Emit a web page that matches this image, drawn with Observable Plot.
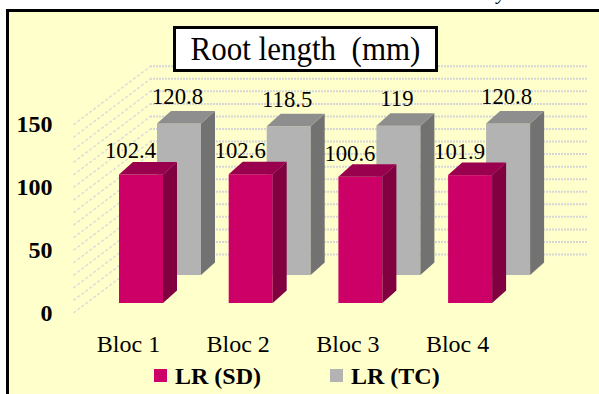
<!DOCTYPE html>
<html>
<head>
<meta charset="utf-8">
<script src="https://cdn.jsdelivr.net/npm/d3@7"></script>
<script src="https://cdn.jsdelivr.net/npm/@observablehq/plot@0.6"></script>
<style>
  html, body { margin: 0; padding: 0; background: #ffffff; }
  #wrap { position: relative; width: 599px; height: 394px; overflow: hidden;
          font-family: "Liberation Serif", "Times New Roman", serif; color: #000; }
  #panel { position: absolute; left: 6px; top: 9px; right: -10px; bottom: -10px;
           background: #ffffcc; border-left: 3px solid #000; border-top: 3px solid #000; }
  #chart { position: absolute; left: 0; top: 0; }
  #title { position: absolute; left: 173px; top: 26px; width: 259px; height: 40px;
           border: 3px solid #000; background: #fff; text-align: center; white-space: pre; }
  #title span { display: inline-block; font-size: 31px; line-height: 40px; transform: scaleY(1.08); }
  .key { position: absolute; top: 369px; width: 13px; height: 13px; }
  .keytext { position: absolute; top: 363px; font-size: 24px; line-height: 26px; font-weight: bold; white-space: pre; }
  #above { position: absolute; left: 497px; top: -18px; font-size: 20px; line-height: 20px; font-style: italic; }
</style>
</head>
<body>
<div id="wrap">
  <div id="panel"></div>
  <div id="above">y</div>
  <div id="chart"></div>
  <div id="title"><span>Root length  (mm)</span></div>
  <div class="key" style="left:154px;background:#cc0066"></div>
  <div class="keytext" style="left:175px">LR (SD)</div>
  <div class="key" style="left:330px;background:#b3b3b3"></div>
  <div class="keytext" style="left:351px">LR (TC)</div>
</div>
<script>
// Root length (mm) per bloc, for the two treatments
const blocs = ["Bloc 1", "Bloc 2", "Bloc 3", "Bloc 4"];
const lrSD = [102.4, 102.6, 100.6, 101.9];
const lrTC = [120.8, 118.5, 119, 120.8];
const yTicks = [0, 50, 100, 150];
const gridTicks = [0, 10, 20, 30, 40, 50, 60, 70, 80, 90, 100, 110, 120, 130, 140, 150];

// Face colours of the pseudo-3D columns
const colors = {
  SD: {front: "#cc0066", side: "#800040", top: "#99004d"},
  TC: {front: "#b3b3b3", side: "#727272", top: "#8e8e8e"}
};

// Projection: pixels per bloc step and per mm, converted into data units
const PX_X = 109.7, PX_Y = 1.255;
const ux = (px) => px / PX_X;
const uy = (px) => px / PX_Y;
const barW = ux(44);                       // width of a column's front face
const rowStep = {dx: ux(38), dy: uy(28)};  // shift from the front row to the back row
const depth = {dx: ux(14), dy: uy(12.5)};  // depth of a single column

function faces(values, row, key) {
  const front = [], side = [], top = [];
  values.forEach((v, i) => {
    const x0 = i + row * rowStep.dx;
    const b = row * rowStep.dy;
    const t = v + b;
    const id = key + i;
    front.push({x1: x0, x2: x0 + barW, y1: b, y2: t});
    side.push({id, x: x0 + barW, y1: b, y2: t});
    side.push({id, x: x0 + barW + depth.dx, y1: b + depth.dy, y2: t + depth.dy});
    top.push({id, y: t, x1: x0, x2: x0 + barW});
    top.push({id, y: t + depth.dy, x1: x0 + depth.dx, x2: x0 + barW + depth.dx});
  });
  return {front, side, top};
}

function columnMarks(f, c) {
  return [
    Plot.rect(f.front, {x1: "x1", x2: "x2", y1: "y1", y2: "y2", fill: c.front}),
    Plot.areaY(f.side, {x: "x", y1: "y1", y2: "y2", z: "id", fill: c.side}),
    Plot.areaX(f.top, {y: "y", x1: "x1", x2: "x2", z: "id", fill: c.top})
  ];
}

const sd = faces(lrSD, 0, "SD");
const tc = faces(lrTC, 1, "TC");

const wallBack = uy(49);     // back wall sits behind the back row
const wallFront = uy(9.5);   // value axis sits in front of the front row
const wallLeftFront = ux(73 - 119);
const wallLeftBack = ux(150 - 119);
const wallRight = ux(588 - 119);

const tcLabels = lrTC.map((v, i) => ({x: i + rowStep.dx + barW / 2 - ux(2), y: v + rowStep.dy, text: String(v)}));
const sdLabels = lrSD.map((v, i) => ({x: i + barW / 2 - ux(11), y: v, text: String(v)}));
const blocLabels = blocs.map((b, i) => ({x: i + barW / 2 - ux(13), y: 0, text: b}));

const font = "Liberation Serif, Times New Roman, serif";

const chart = Plot.plot({
  width: 599,
  height: 394,
  margin: 0,
  x: {type: "linear", domain: [ux(-119), ux(599 - 119)], axis: null},
  y: {type: "linear", domain: [uy(303 - 394), uy(303)], axis: null},
  style: {background: "transparent", overflow: "visible"},
  marks: [
    // back wall grid
    Plot.ruleY(gridTicks, {y: (d) => d + wallBack, x1: wallLeftBack, x2: wallRight,
      stroke: "#d6d6d6", strokeWidth: 2, strokeDasharray: "2,1"}),
    // side wall grid
    Plot.link(gridTicks, {x1: wallLeftFront, y1: (d) => d - wallFront, x2: wallLeftBack, y2: (d) => d + wallBack,
      stroke: "#dcdcdc", strokeWidth: 1.5, strokeDasharray: "3,2"}),
    // back row then front row
    ...columnMarks(tc, colors.TC),
    ...columnMarks(sd, colors.SD),
    // value axis
    Plot.text(yTicks, {y: (d) => d, text: (d) => String(d), frameAnchor: "left", dx: 52, dy: 9.5,
      textAnchor: "end", fontSize: 24, fontWeight: "bold", fontFamily: font, fill: "#000"}),
    // value labels
    Plot.text(tcLabels, {x: "x", y: "y", text: "text", dy: -27, fontSize: 22.7, fontFamily: font,
      fill: "#000", ariaLabel: "stretched"}),
    Plot.text(sdLabels, {x: "x", y: "y", text: "text", dy: -24, fontSize: 22.7, fontFamily: font,
      fill: "#000", ariaLabel: "stretched"}),
    // category labels
    Plot.text(blocLabels, {x: "x", y: "y", text: "text", dy: 41, fontSize: 24, fontFamily: font,
      fill: "#000", ariaLabel: "stretched", xmlSpace: "preserve"})
  ]
});

// Times-style labels are drawn slightly taller than wide
chart.querySelectorAll('g[aria-label="stretched"] text').forEach((t) => {
  const tr = t.getAttribute("transform");
  if (tr) {
    t.setAttribute("transform", tr + " scale(1,1.1)");
  } else {
    const x = t.getAttribute("x") || 0, y = t.getAttribute("y") || 0;
    t.removeAttribute("x"); t.removeAttribute("y");
    t.setAttribute("transform", `translate(${x},${y}) scale(1,1.1)`);
  }
});

document.getElementById("chart").appendChild(chart);
</script>
</body>
</html>
